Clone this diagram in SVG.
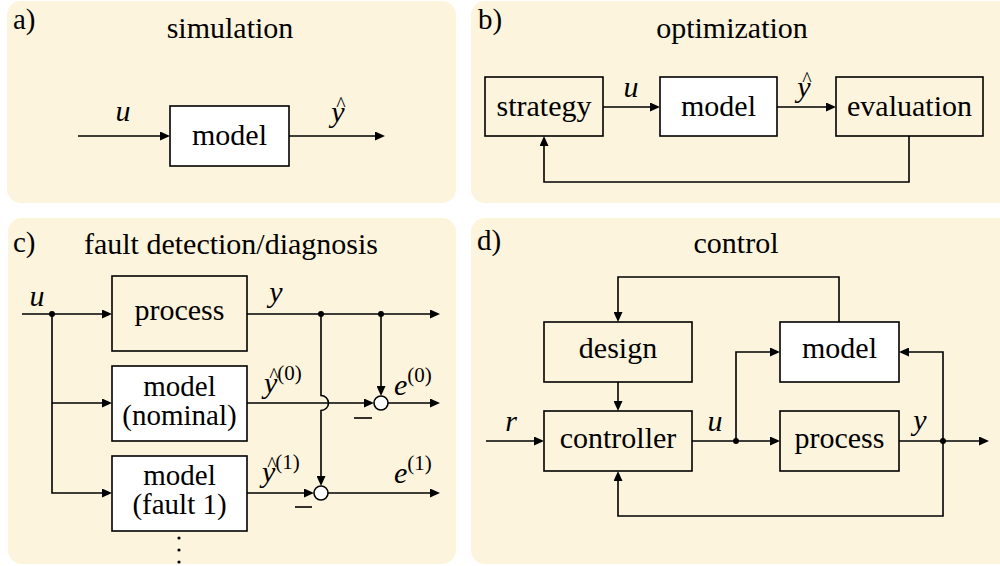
<svg xmlns="http://www.w3.org/2000/svg" width="1000" height="566" viewBox="0 0 1000 566">
  <defs>
    <marker id="head" viewBox="0 0 10 9" refX="8" refY="4.5" markerWidth="10" markerHeight="9" markerUnits="userSpaceOnUse" orient="auto">
      <path d="M0,0 L10,4.5 L0,9 z" fill="#000"/>
    </marker>
  </defs>

  <!-- panel backgrounds -->
  <g fill="#fcf4dd">
    <rect x="7" y="1" width="449" height="202" rx="14"/>
    <rect x="471" y="1" width="545" height="202" rx="14"/>
    <rect x="8" y="218" width="448" height="346" rx="14"/>
    <rect x="471" y="218" width="545" height="346" rx="14"/>
  </g>

  <!-- ===== a) simulation ===== -->
  <g id="panel-a">
    <text font-family="Liberation Serif" font-size="29" x="13" y="29">a)</text>
    <text font-family="Liberation Serif" font-size="30" text-anchor="middle" x="230" y="38">simulation</text>
    <g id="a-model">
      <rect x="170" y="106" width="119" height="60" fill="#fff" stroke="#000" stroke-width="1.6"/>
      <text font-family="Liberation Serif" font-size="30" text-anchor="middle" x="229.5" y="145">model</text>
    </g>
    <g id="a-connectors" fill="none" stroke="#000" stroke-width="1.6" marker-end="url(#head)">
      <path d="M78,136 H168"/>
      <path d="M289,136 H383"/>
    </g>
    <text font-family="Liberation Serif" font-size="30" font-style="italic" text-anchor="middle" x="123" y="121">u</text>
    <text font-family="Liberation Serif" font-size="30" font-style="italic" text-anchor="middle" x="338" y="122">y</text>
    <text font-family="Liberation Serif" font-size="20" text-anchor="middle" x="341" y="111">^</text>
  </g>

  <!-- ===== b) optimization ===== -->
  <g id="panel-b">
    <text font-family="Liberation Serif" font-size="29" x="478" y="29">b)</text>
    <text font-family="Liberation Serif" font-size="30" text-anchor="middle" x="732" y="38">optimization</text>
    <g id="b-strategy">
      <rect x="485" y="77" width="118" height="59" fill="#fcf4dd" stroke="#000" stroke-width="1.6"/>
      <text font-family="Liberation Serif" font-size="30" text-anchor="middle" x="544" y="116">strategy</text>
    </g>
    <g id="b-model">
      <rect x="660" y="77" width="117" height="59" fill="#fff" stroke="#000" stroke-width="1.6"/>
      <text font-family="Liberation Serif" font-size="30" text-anchor="middle" x="718.5" y="116">model</text>
    </g>
    <g id="b-evaluation">
      <rect x="836" y="77" width="147" height="59" fill="#fcf4dd" stroke="#000" stroke-width="1.6"/>
      <text font-family="Liberation Serif" font-size="30" text-anchor="middle" x="909.5" y="116">evaluation</text>
    </g>
    <g id="b-connectors" fill="none" stroke="#000" stroke-width="1.6" marker-end="url(#head)">
      <path d="M603,107 H658"/>
      <path d="M777,107 H834"/>
      <path d="M909,136 V182 H544 V138"/>
    </g>
    <text font-family="Liberation Serif" font-size="30" font-style="italic" text-anchor="middle" x="631" y="97">u</text>
    <text font-family="Liberation Serif" font-size="30" font-style="italic" text-anchor="middle" x="804" y="97">y</text>
    <text font-family="Liberation Serif" font-size="20" text-anchor="middle" x="807" y="86">^</text>
  </g>

  <!-- ===== c) fault detection/diagnosis ===== -->
  <g id="panel-c">
    <text font-family="Liberation Serif" font-size="29" x="13" y="252">c)</text>
    <text font-family="Liberation Serif" font-size="30" text-anchor="middle" x="231" y="254">fault detection/diagnosis</text>
    <g id="c-process">
      <rect x="112" y="276" width="135" height="75" fill="#fcf4dd" stroke="#000" stroke-width="1.6"/>
      <text font-family="Liberation Serif" font-size="30" text-anchor="middle" x="179.5" y="320">process</text>
    </g>
    <g id="c-model-nominal">
      <rect x="112" y="366" width="135" height="75" fill="#fff" stroke="#000" stroke-width="1.6"/>
      <text font-family="Liberation Serif" font-size="29" text-anchor="middle" x="179.5" y="396">model</text>
      <text font-family="Liberation Serif" font-size="29" text-anchor="middle" x="179.5" y="425">(nominal)</text>
    </g>
    <g id="c-model-fault1">
      <rect x="112" y="456" width="135" height="75" fill="#fff" stroke="#000" stroke-width="1.6"/>
      <text font-family="Liberation Serif" font-size="29" text-anchor="middle" x="179.5" y="485">model</text>
      <text font-family="Liberation Serif" font-size="29" text-anchor="middle" x="179.5" y="514">(fault 1)</text>
    </g>
    <g id="c-connectors" fill="none" stroke="#000" stroke-width="1.6" marker-end="url(#head)">
      <!-- input distribution -->
      <path d="M22,314 H110"/>
      <path d="M52,314 V493 H110"/>
      <path d="M52,403 H110"/>
      <!-- process output -->
      <path d="M247,314 H438"/>
      <!-- y to residual 0 -->
      <path d="M381,314 V394"/>
      <!-- y to residual 1, hopping over the nominal output -->
      <path d="M321,314 V395.5 A7.5,7.5 0 0 1 321,410.5 V484"/>
      <!-- model outputs -->
      <path d="M247,403 H372"/>
      <path d="M247,493 H312"/>
      <!-- residuals -->
      <path d="M388,403 H438"/>
      <path d="M328,493 H438"/>
    </g>
    <g id="c-junctions" fill="#000">
      <circle cx="52" cy="314" r="3"/>
      <circle cx="321" cy="314" r="3"/>
      <circle cx="381" cy="314" r="3"/>
    </g>
    <g id="c-sum0">
      <circle cx="381" cy="403" r="7" fill="#fff" stroke="#000" stroke-width="1.6"/>
      <path d="M354,418 H372" stroke="#000" stroke-width="1.6"/>
    </g>
    <g id="c-sum1">
      <circle cx="321" cy="493" r="7" fill="#fff" stroke="#000" stroke-width="1.6"/>
      <path d="M295,507 H312" stroke="#000" stroke-width="1.6"/>
    </g>
    <text font-family="Liberation Serif" font-size="30" font-style="italic" text-anchor="middle" x="37" y="306">u</text>
    <text font-family="Liberation Serif" font-size="30" font-style="italic" text-anchor="middle" x="276" y="302">y</text>
    <text font-family="Liberation Serif" font-size="30" font-style="italic" x="264" y="393">y<tspan font-size="21" font-style="normal" dy="-13">(0)</tspan></text>
    <text font-family="Liberation Serif" font-size="20" text-anchor="middle" x="274" y="382">^</text>
    <text font-family="Liberation Serif" font-size="30" font-style="italic" x="394" y="395">e<tspan font-size="21" font-style="normal" dy="-13">(0)</tspan></text>
    <text font-family="Liberation Serif" font-size="30" font-style="italic" x="262" y="482">y<tspan font-size="21" font-style="normal" dy="-13">(1)</tspan></text>
    <text font-family="Liberation Serif" font-size="20" text-anchor="middle" x="272" y="471">^</text>
    <text font-family="Liberation Serif" font-size="30" font-style="italic" x="394" y="483">e<tspan font-size="21" font-style="normal" dy="-13">(1)</tspan></text>
    <g id="c-vdots" fill="#000">
      <circle cx="179" cy="538" r="1.6"/>
      <circle cx="179" cy="550" r="1.6"/>
      <circle cx="179" cy="562" r="1.6"/>
    </g>
  </g>

  <!-- ===== d) control ===== -->
  <g id="panel-d">
    <text font-family="Liberation Serif" font-size="29" x="477" y="250">d)</text>
    <text font-family="Liberation Serif" font-size="30" text-anchor="middle" x="736" y="253">control</text>
    <g id="d-design">
      <rect x="544" y="322" width="148" height="60" fill="#fcf4dd" stroke="#000" stroke-width="1.6"/>
      <text font-family="Liberation Serif" font-size="30" text-anchor="middle" x="618" y="358">design</text>
    </g>
    <g id="d-controller">
      <rect x="544" y="411" width="148" height="60" fill="#fcf4dd" stroke="#000" stroke-width="1.6"/>
      <text font-family="Liberation Serif" font-size="30" text-anchor="middle" x="618" y="448">controller</text>
    </g>
    <g id="d-model">
      <rect x="780" y="322" width="119" height="60" fill="#fff" stroke="#000" stroke-width="1.6"/>
      <text font-family="Liberation Serif" font-size="30" text-anchor="middle" x="839.5" y="358">model</text>
    </g>
    <g id="d-process">
      <rect x="780" y="411" width="119" height="60" fill="#fcf4dd" stroke="#000" stroke-width="1.6"/>
      <text font-family="Liberation Serif" font-size="30" text-anchor="middle" x="839.5" y="448">process</text>
    </g>
    <g id="d-connectors" fill="none" stroke="#000" stroke-width="1.6" marker-end="url(#head)">
      <path d="M839,322 V277 H618 V320"/>
      <path d="M618,382 V409"/>
      <path d="M486,441 H542"/>
      <path d="M692,441 H778"/>
      <path d="M736,441 V352 H778"/>
      <path d="M899,441 H987"/>
      <path d="M943,441 V352 H901"/>
      <path d="M943,441 V516 H618 V473"/>
    </g>
    <g id="d-junctions" fill="#000">
      <circle cx="736" cy="441" r="3"/>
      <circle cx="943" cy="441" r="3"/>
    </g>
    <text font-family="Liberation Serif" font-size="30" font-style="italic" text-anchor="middle" x="511" y="431">r</text>
    <text font-family="Liberation Serif" font-size="30" font-style="italic" text-anchor="middle" x="715" y="431">u</text>
    <text font-family="Liberation Serif" font-size="30" font-style="italic" text-anchor="middle" x="920" y="430">y</text>
  </g>
</svg>
